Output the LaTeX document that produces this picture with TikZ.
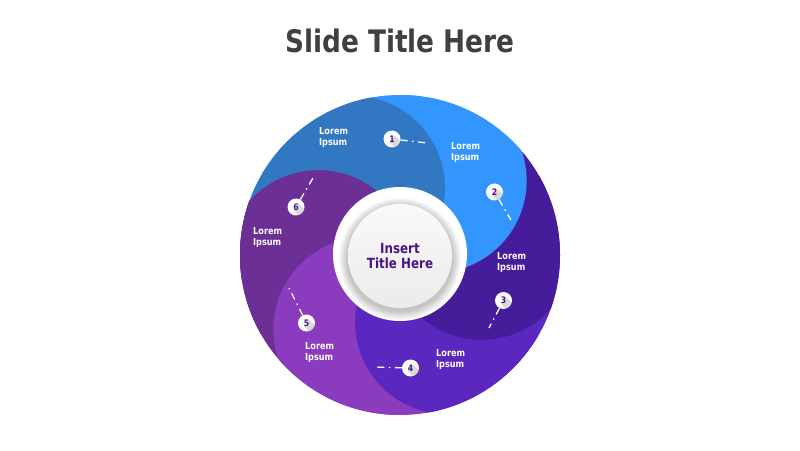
\documentclass[tikz,border=0pt]{standalone}
\usepackage{fontspec}
\usetikzlibrary{calc}
\newfontfamily\slidefont{DejaVu Sans}[FakeStretch=0.85]
\definecolor{segA}{HTML}{3277C2}
\definecolor{segB}{HTML}{3395FE}
\definecolor{segC}{HTML}{451D9A}
\definecolor{segD}{HTML}{5A28BF}
\definecolor{segE}{HTML}{8A3BBE}
\definecolor{segF}{HTML}{6C2F96}
\definecolor{inkpurple}{HTML}{4A1485}
\definecolor{titlegray}{HTML}{404040}
\begin{document}
\begin{tikzpicture}[x=1pt, y=1pt,
    lbl/.style={text=white, font=\slidefont\bfseries\fontsize{9.6}{11}\selectfont, align=left, anchor=west, inner sep=0pt},
    badge/.style={circle, fill=white, minimum size=17pt, inner sep=0pt, text=inkpurple,
      font=\slidefont\bfseries\fontsize{9}{9}\selectfont,
      path picture={\fill[black, opacity=0.15] ($(path picture bounding box.center)+(-2.5,-3.5)$) -- ++(14,-14) -- ++(5,7) -- ($(path picture bounding box.center)+(2.5,3.5)$) -- cycle;}},
    leader/.style={white, line width=1.3pt, dash pattern=on 7pt off 4.5pt on 1.5pt off 4.5pt},
    hub/.style={circle, minimum size=104pt, inner sep=0pt, top color=black!2, bottom color=black!8,
      text=inkpurple, align=center, font=\slidefont\bfseries\fontsize{14}{15.5}\selectfont}]
    \fill[white] (0,0) rectangle (800,450);
    \useasboundingbox (0,0) rectangle (800,450);
    \coordinate (C) at (400,195);

    % Swirl segments, each one lying over the next
    \begin{scope}
        \clip (C) circle[radius=160pt];
        \foreach \k/\col in {6/segF,5/segE,4/segD,3/segC,2/segB,1/segA}{
            \pgfmathsetmacro{\ca}{185-60*\k}
            \pgfmathsetmacro{\ra}{160-60*\k}
            \fill[\col] ($(C)+(\ca:82pt)$) circle[radius=92pt];
            \fill[\col] (C) -- ($(C)+(\ra:170pt)$) arc[start angle=\ra, delta angle=60, radius=170pt] -- cycle;
        }
        % segments 6 and 5 over segment 1 again
        \clip (0,169) rectangle (800,450);
        \begin{scope}[even odd rule]
            \clip ($(C)+(-115:82pt)$) circle[radius=92pt] (0,0) rectangle (800,450);
            \fill[segF] ($(C)+(-175:82pt)$) circle[radius=92pt];
            \fill[segF] (C) -- ($(C)+(160:170pt)$) arc[start angle=160, delta angle=60, radius=170pt] -- cycle;
        \end{scope}
        \fill[segE] ($(C)+(-115:82pt)$) circle[radius=92pt];
    \end{scope}

    % Center disc
    \fill[white] (400,196) circle[radius=67pt];
    \foreach \i in {1,...,10} \fill[black, opacity=0.022] (400,191) circle[radius=52pt+\i*0.9pt];
    \node[hub] (hub) at (400,194) {Insert\\Title Here};

    % Labels
    \foreach \n/\lx/\ly in {1/319/312.5, 2/451/297.5, 3/497/187.5, 4/436/90.7, 5/305/98, 6/253/212}
        \node[lbl] (l\n) at (\lx,\ly) {Lorem\\Ipsum};

    % Badges and leaders
    \foreach \n/\bx/\by/\ex/\ey in {1/392/311/427/307, 2/494.5/258/511/230, 3/503.5/149.5/489/122,
                                   4/410.5/82/373/83, 5/306.5/127/289/162, 6/296/243/313/272}{
        \coordinate (e\n) at (\ex,\ey);
        \node[badge] (b\n) at (\bx,\by) {\n};
        \draw[leader] (b\n) -- (e\n);
    }

    \node[text=titlegray, font=\slidefont\bfseries\fontsize{31}{31}\selectfont, anchor=base] (title) at (400,397) {Slide Title Here};
\end{tikzpicture}
\end{document}
